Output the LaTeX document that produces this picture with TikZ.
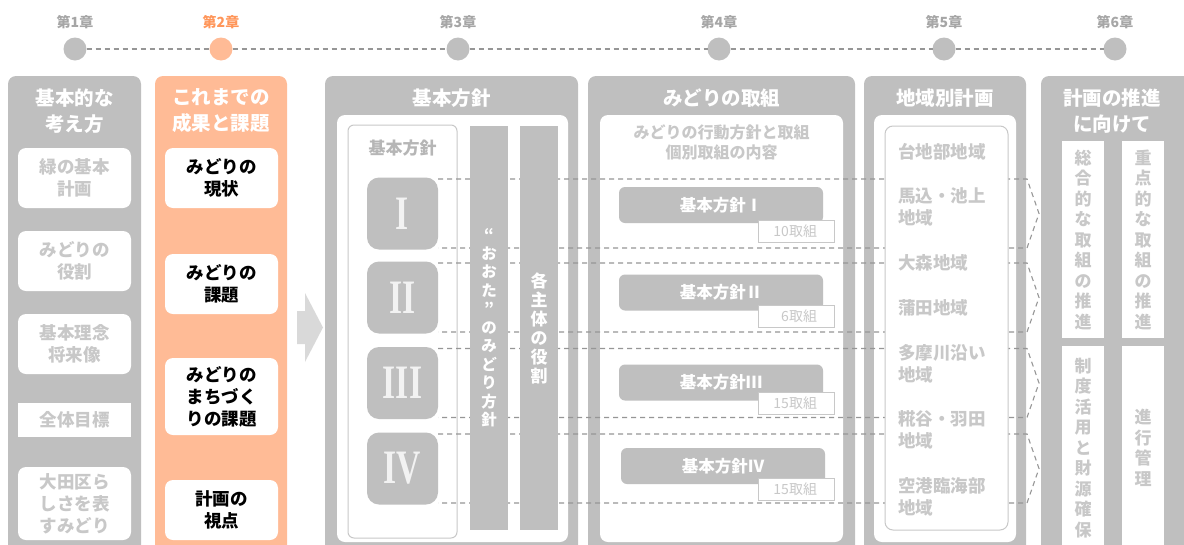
\documentclass[tikz,border=0pt]{standalone}
\usepackage{fontspec}
\setmainfont{Noto Sans CJK JP}
\newfontfamily\romfont{Liberation Serif}
\usetikzlibrary{calc}
\definecolor{gfill}{RGB}{191,191,191}
\definecolor{ofill}{RGB}{255,187,150}
\definecolor{ltext}{RGB}{200,200,200}
\definecolor{mtext}{RGB}{182,182,182}
\definecolor{dashc}{RGB}{150,150,150}
\definecolor{chapg}{RGB}{166,166,166}
\definecolor{chapo}{RGB}{255,150,90}
\definecolor{arrowc}{RGB}{217,217,217}
\definecolor{romc}{RGB}{242,242,242}
\definecolor{bordc}{RGB}{200,200,200}
\newcommand{\rnum}[1]{\scalebox{0.7}[1]{\romfont\bfseries\fontsize{48}{48}\selectfont #1}}
\begin{document}
\begin{tikzpicture}[x=1pt,y=-1pt,
  every node/.style={inner sep=0pt, outer sep=0pt},
  colbox/.style={rounded corners=8pt, minimum height=490},
  wbox/.style={fill=white, rounded corners=8pt},
  ttl/.style={text=white, align=center, font=\bfseries\fontsize{19.5}{26}\selectfont},
  ltxt/.style={text=ltext, align=center, font=\bfseries\fontsize{17.5}{22}\selectfont},
  btxt/.style={text=black, align=center, font=\bfseries\fontsize{17.5}{22}\selectfont},
  obox/.style={draw=bordc, line width=1pt, fill=white, rounded corners=6pt},
  rbox/.style={fill=gfill, rounded corners=12pt, minimum width=71, minimum height=72, text=romc},
  barbox/.style={fill=gfill, minimum width=38, minimum height=404, text=white, align=center},
  gbox/.style={fill=gfill, rounded corners=6pt, minimum width=204, minimum height=36, text=white, font=\bfseries\fontsize{16.5}{20}\selectfont},
  sbox/.style={draw=bordc, line width=0.8pt, fill=white, minimum width=76, minimum height=22},
  stxt/.style={text=ltext, font=\fontsize{14}{16}\selectfont, anchor=east},
  rtxt/.style={text=ltext, align=left, anchor=west, font=\bfseries\fontsize{17.5}{22}\selectfont},
  vbox/.style={fill=white, minimum width=42, text=ltext, align=center, font=\bfseries\fontsize{17}{20.5}\selectfont},
  dot/.style={circle, minimum size=23, fill=gfill},
  chl/.style={text=chapg, font=\bfseries\fontsize{14}{16}\selectfont},
  tline/.style={draw=dashc, line width=1.1pt, dash pattern=on 5pt off 4pt},
  dashl/.style={draw=dashc, line width=1.1pt, dash pattern=on 5pt off 4pt}
]
\useasboundingbox (0,0) rectangle (1184,544);
\clip (0,0) rectangle (1184,544);

% timeline
\node[dot] (c1) at (75,49) {};
\node[dot, fill=ofill] (c2) at (221,49) {};
\node[dot] (c3) at (458,49) {};
\node[dot] (c4) at (719,49) {};
\node[dot] (c5) at (944,49) {};
\node[dot] (c6) at (1115,49) {};
\draw[tline] (c1) -- (c2);
\draw[tline] (c2) -- (c3);
\draw[tline] (c3) -- (c4);
\draw[tline] (c4) -- (c5);
\draw[tline] (c5) -- (c6);
\node[chl] (l1) at (75,22) {第1章};
\node[chl, text=chapo] (l2) at (221,22) {第2章};
\node[chl] (l3) at (458,22) {第3章};
\node[chl] (l4) at (719,22) {第4章};
\node[chl] (l5) at (944,22) {第5章};
\node[chl] (l6) at (1115,22) {第6章};

% columns
\node[colbox, fill=gfill, minimum width=133] (col1) at (74.5,321) {};
\node[colbox, fill=ofill, minimum width=132] (col2) at (221,321) {};
\node[colbox, fill=gfill, minimum width=253] (col3) at (451.5,321) {};
\node[colbox, fill=gfill, minimum width=267] (col4) at (721.5,321) {};
\node[colbox, fill=gfill, minimum width=162] (col5) at (945,321) {};
\node[colbox, fill=gfill, minimum width=170] (col6) at (1126,321) {};

\node[ttl] (t1) at (74.5,111) {基本的な\\考え方};
\node[ttl] (t2) at (221,111) {これまでの\\成果と課題};
\node[ttl] (t3) at (451.5,98) {基本方針};
\node[ttl] (t4) at (721.5,98) {みどりの取組};
\node[ttl] (t5) at (945,98) {地域別計画};
\node[ttl] (t6) at (1112,111) {計画の推進\\に向けて};

% column 1
\node[wbox, minimum width=113, minimum height=60, ltxt] (b11) at (74.5,178) {緑の基本\\計画};
\node[wbox, minimum width=113, minimum height=60, ltxt] (b12) at (74.5,261) {みどりの\\役割};
\node[wbox, minimum width=113, minimum height=60, ltxt] (b13) at (74.5,344) {基本理念\\将来像};
\node[wbox, sharp corners, minimum width=113, minimum height=34, ltxt] (b14) at (74.5,420) {全体目標};
\node[wbox, minimum width=113, minimum height=73, ltxt] (b15) at (74.5,503.5) {大田区ら\\しさを表\\すみどり};

% column 2
\node[wbox, minimum width=113, minimum height=60, btxt] (b21) at (221.5,178) {みどりの\\現状};
\node[wbox, minimum width=113, minimum height=60, btxt] (b22) at (221.5,284) {みどりの\\課題};
\node[wbox, minimum width=113, minimum height=77, btxt] (b23) at (221.5,396.5) {みどりの\\まちづく\\りの課題};
\node[wbox, minimum width=113, minimum height=60, btxt] (b24) at (221.5,510) {計画の\\視点};

% arrow
\fill[arrowc] (297,311) -- (305,311) -- (305,293) -- (323,327.5) -- (305,362) -- (305,344) -- (297,344) -- cycle;

% column 3
\node[wbox, minimum width=231, minimum height=427] (w3) at (452.5,328.5) {};
\node[obox, minimum width=109, minimum height=413] (o3) at (402.5,331.5) {};
\node[text=mtext, font=\bfseries\fontsize{17}{20}\selectfont] (h3) at (402.5,148) {基本方針};
\node[rbox] (p1) at (402.5,213.5) {\rnum{I}};
\node[rbox] (p2) at (402.5,297.5) {\rnum{II}};
\node[rbox] (p3) at (402.5,383) {\rnum{III}};
\node[rbox] (p4) at (402.5,468.5) {\rnum{IV}};

% column 4
\node[wbox, minimum width=243, minimum height=427] (w4) at (721.5,328.5) {};
\node[text=ltext, align=center, font=\bfseries\fontsize{16}{20}\selectfont] (h4) at (721.5,142) {みどりの行動方針と取組\\個別取組の内容};
\node[gbox] (g1) at (721,205) {基本方針Ⅰ};
\node[gbox] (g2) at (721,292.5) {基本方針Ⅱ};
\node[gbox] (g3) at (721,382.5) {基本方針Ⅲ};
\node[gbox] (g4) at (723,466) {基本方針Ⅳ};
\node[sbox] (s1) at (796,231) {};
\node[sbox] (s2) at (796,316) {};
\node[sbox] (s3) at (796,403.5) {};
\node[sbox] (s4) at (796,489.5) {};
\node[stxt] (n1) at ($(s1.east)+(-17,0)$) {10取組};
\node[stxt] (n2) at ($(s2.east)+(-17,0)$) {6取組};
\node[stxt] (n3) at ($(s3.east)+(-17,0)$) {15取組};
\node[stxt] (n4) at ($(s4.east)+(-17,0)$) {15取組};

% column 5
\node[wbox, minimum width=142, minimum height=427] (w5) at (945,328.5) {};

% column 6
\node[vbox, minimum height=197] (A) at (1083,239.5) {総\\合\\的\\な\\取\\組\\の\\推\\進};
\node[vbox, minimum height=197] (B) at (1143,239.5) {重\\点\\的\\な\\取\\組\\の\\推\\進};
\node[vbox, minimum height=204] (C) at (1083,448) {制\\度\\活\\用\\と\\財\\源\\確\\保};
\node[vbox, minimum height=204] (D) at (1143,448) {進\\行\\管\\理};

% dashed links
\coordinate (k1) at (1039,213.5);
\coordinate (k2) at (1039,297.5);
\coordinate (k3) at (1039,383);
\coordinate (k4) at (1039,468.5);
\foreach \i in {1,2,3,4}{
  \draw[dashl] ($(p\i.north east)+(0,1.5)$) -- ($(k\i)+(-12,-34.5)$) -- (k\i) -- ($(k\i)+(-12,34.5)$) -- ($(p\i.south east)+(0,-1.5)$);
}

% bars of column 3
\node[barbox, font=\bfseries\fontsize{15.5}{18.5}\selectfont] (v1) at (489,328) {“\\お\\お\\た\\”\\の\\み\\ど\\り\\方\\針};
\node[barbox, font=\bfseries\fontsize{17}{19}\selectfont] (v2) at (539,328) {各\\主\\体\\の\\役\\割};

% column 5 list
\node[obox, rounded corners=8pt, minimum width=123, minimum height=404] (o5) at (946.5,328) {};
\node[rtxt] (r1) at (898,152) {台地部地域};
\node[rtxt] (r2) at (898,207) {馬込・池上\\地域};
\node[rtxt] (r3) at (898,263) {大森地域};
\node[rtxt] (r4) at (898,308) {蒲田地域};
\node[rtxt] (r5) at (898,363.5) {多摩川沿い\\地域};
\node[rtxt] (r6) at (898,430) {糀谷・羽田\\地域};
\node[rtxt] (r7) at (898,497) {空港臨海部\\地域};
\end{tikzpicture}
\end{document}
